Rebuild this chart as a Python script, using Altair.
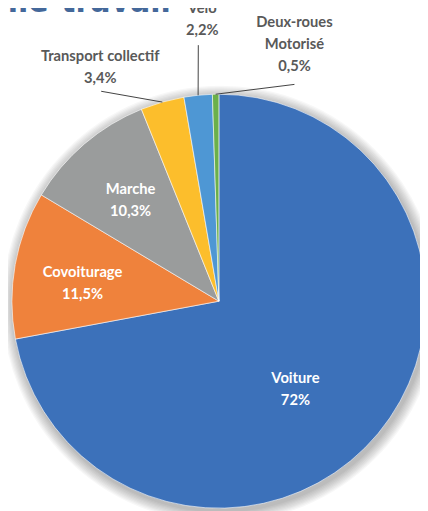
import math
import altair as alt
import pandas as pd

# ---- data ----
categories = ["Voiture", "Covoiturage", "Marche", "Transport collectif", "Vélo", "Deux-roues Motorisé"]
values = [72.0, 11.5, 10.3, 3.4, 2.2, 0.5]
pct_labels = ["72%", "11,5%", "10,3%", "3,4%", "2,2%", "0,5%"]
label_names = ["Voiture", "Covoiturage", "Marche", "Transport collectif", "Vélo", "Deux-roues\nMotorisé"]
title_text = "Domicile-travail"

# ---- style / layout ----
colors = ["#3C71BA", "#EF823C", "#9A9C9C", "#FCBE2C", "#4E97D4", "#6BB04A"]
text_colors = ["white", "white", "white", "#595959", "#595959", "#595959"]
# first-line centres of the label blocks (pixels inside the chart)
label_pos = [(293, 372), (76, 264), (125, 180), (94, 44), (198, -4.5), (292, 9.5)]
# outer end of leader lines (None = no leader)
leader_end = [None, None, None, (95, 80), (194, 33), (292, 73)]

W, H = 420, 503
CX, CY, R = 215, 294, 211

df = pd.DataFrame({
    "cat": categories,
    "value": values,
    "idx": list(range(len(categories))),
})

total = sum(values)
cum = 0.0
mids = []
for v in values:
    mids.append((cum + v / 2) / total * 2 * math.pi)
    cum += v

lab = pd.DataFrame({
    "text": [n + "\n" + p for n, p in zip(label_names, pct_labels)],
    "lx": [p[0] for p in label_pos],
    "ly": [p[1] for p in label_pos],
    "tc": text_colors,
})

rules = []
for i, end in enumerate(leader_end):
    if end is None:
        continue
    a = mids[i]
    rules.append({
        "x": CX + R * math.sin(a),
        "y": CY - R * math.cos(a),
        "x2": end[0],
        "y2": end[1],
    })
rules_df = pd.DataFrame(rules)

one = pd.DataFrame({"a": [0]})

shadow_layers = []
for k in range(1, 10):
    shadow_layers.append(
        alt.Chart(one).mark_arc(
            theta=0, theta2=2 * math.pi, radius=R + k * 1.3,
            color="#000000", opacity=0.03,
        ).encode(x=alt.value(CX + 2), y=alt.value(CY + 3))
    )

pie = alt.Chart(df).mark_arc(radius=R, stroke="white", strokeWidth=0.6).encode(
    theta=alt.Theta("value:Q", stack=True),
    order=alt.Order("idx:Q"),
    color=alt.Color("cat:N", scale=alt.Scale(domain=categories, range=colors), legend=None),
    x=alt.value(CX),
    y=alt.value(CY),
)

leaders = alt.Chart(rules_df).mark_rule(color="#404040", strokeWidth=1).encode(
    x=alt.X("x:Q", scale=None),
    y=alt.Y("y:Q", scale=None),
    x2="x2:Q",
    y2="y2:Q",
)

labels = alt.Chart(lab).mark_text(
    font="Lato", fontWeight="bold", fontSize=15, lineBreak="\n", lineHeight=22.5,
    align="center", baseline="middle",
).encode(
    x=alt.X("lx:Q", scale=None),
    y=alt.Y("ly:Q", scale=None),
    text="text:N",
    color=alt.Color("tc:N", scale=None),
)

title = alt.Chart(pd.DataFrame({"t": [title_text]})).mark_text(
    font="DejaVu Sans Condensed", fontWeight="bold", fontSize=34, color="#44689A",
    align="right", baseline="alphabetic",
).encode(x=alt.value(166), y=alt.value(-1), text="t:N")

chart = alt.layer(*shadow_layers, pie, leaders, labels, title).properties(
    width=W, height=H,
    autosize=alt.AutoSizeParams(type="none"),
    padding=0,
).configure_view(stroke=None)

chart.save("out.html", embed_options={"renderer": "svg", "actions": False})
